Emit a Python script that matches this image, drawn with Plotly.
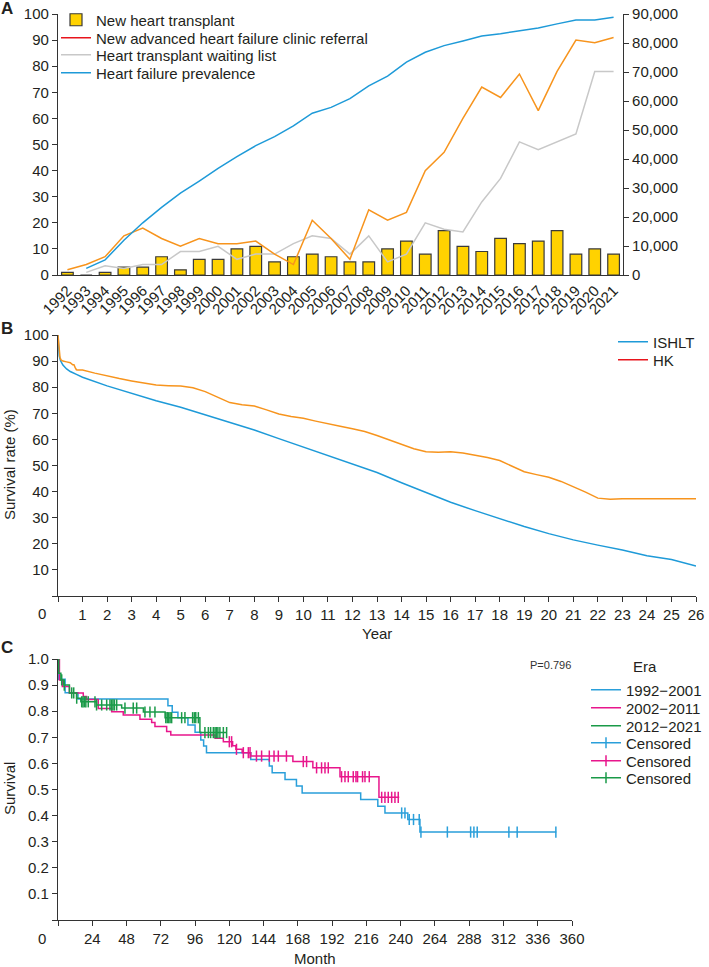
import plotly.graph_objects as go

# ---------------- Panel A data ----------------
years = ["1992", "1993", "1994", "1995", "1996", "1997", "1998", "1999", "2000", "2001",
         "2002", "2003", "2004", "2005", "2006", "2007", "2008", "2009", "2010", "2011",
         "2012", "2013", "2014", "2015", "2016", "2017", "2018", "2019", "2020", "2021"]
new_transplant = [1, 0, 1, 3, 3, 7, 2, 6, 6, 10, 11, 5, 7, 8, 7, 5, 5, 10, 13, 8,
                  17, 11, 9, 14, 12, 13, 17, 8, 10, 8]
new_referral = [2, 4, 7, 15, 18, 14, 11, 14, 12, 12, 13, 8, 4, 21, 14, 6, 25, 21, 24, 40,
                47, 60, 72, 68, 77, 63, 78, 90, 89, 91]
waiting_list = [None, 1, 3.5, 2.5, 4, 4, 9, 9, 11, 6, 8, 8, 12, 15, 14, 8, 15, 5, 8, 20,
                17.5, 16.5, 28, 37, 51, 48, 51, 54, 78, 78]
hf_prevalence = [None, 2300, 5200, 12000, 18000, 23300, 28200, 32400, 36800, 40800,
                 44600, 47700, 51400, 55800, 57800, 60800, 65200, 68600, 73400, 76800,
                 79100, 80700, 82400, 83200, 84300, 85200, 86600, 87900, 87900, 88900]

# ---------------- Panel B data ----------------
ishlt_year = [0, 0.02, 0.05, 0.1, 0.2, 0.35, 0.5, 0.75, 1, 2, 3, 4, 5, 6, 7, 8, 9, 10,
              11, 12, 13, 14, 15, 16, 17, 18, 19, 20, 21, 22, 23, 24, 25, 26]
ishlt_surv = [100, 95, 92, 90.2, 88.5, 87, 86, 84.9, 83.8, 80.5, 77.6, 74.8, 72.3, 69.5,
              66.5, 63.6, 60.3, 57, 53.6, 50.4, 47.3, 43.4, 39.6, 35.9, 32.7, 29.6, 26.6,
              23.9, 21.5, 19.5, 17.6, 15.4, 14.0, 11.5]
hk_year = [0, 0.02, 0.05, 0.08, 0.12, 0.2, 0.35, 0.5, 0.6, 0.65, 0.7, 0.75, 0.8, 1.0,
           1.5, 2, 2.5, 3, 3.5, 4, 4.5, 5, 5.5, 6, 6.5, 7, 7.5, 8, 8.5, 9, 9.5, 10, 10.5,
           11, 11.5, 12, 12.5, 13, 13.5, 14, 14.5, 15, 15.5, 16, 16.5, 17, 17.5, 18, 18.5,
           19, 19.5, 20, 20.5, 21, 21.5, 22, 22.5, 23, 24, 25, 26]
hk_surv = [100, 97, 94, 91.5, 90.5, 90, 89.7, 89.4, 88.6, 88.6, 87.5, 86.7, 86.6, 86.6,
           85.4, 84.3, 83.3, 82.4, 81.5, 80.8, 80.6, 80.5, 79.8, 78.3, 76.2, 74.1, 73.3,
           72.8, 71.3, 69.7, 68.8, 68.1, 67.0, 65.9, 65.0, 64.1, 63.0, 61.5, 59.8, 57.9,
           56.4, 55.3, 55.1, 55.3, 54.8, 53.9, 53.1, 51.9, 49.8, 47.6, 46.5, 45.5, 43.9,
           41.9, 39.8, 37.5, 37.1, 37.3, 37.3, 37.3, 37.3]

# ---------------- Panel C data (Kaplan-Meier by era) ----------------
era1_month = [0, 0.5, 5, 14, 77, 80, 84, 91, 96, 100, 102, 104, 135, 148, 150, 159, 167,
              171, 212, 224, 229, 245, 253.5, 349]
era1_surv = [1.0, 0.922, 0.871, 0.847, 0.821, 0.796, 0.775, 0.747, 0.719, 0.69, 0.667,
             0.641, 0.615, 0.59, 0.564, 0.538, 0.513, 0.487, 0.462, 0.436, 0.41, 0.385,
             0.337, 0.337]
era1_censor = [240.7, 243, 246, 249, 253, 254.2, 272.7, 289, 291.3, 293.6, 315.8, 321.6,
               348.7]

era2_month = [0, 1, 3, 8, 17.7, 20, 28.2, 37.6, 45.7, 57.4, 65.6, 67.9, 76.1, 79, 110,
              115.8, 122.3, 124.6, 129, 135, 164.5, 178.5, 197.5, 224.8, 239]
era2_surv = [1.0, 0.92, 0.895, 0.87, 0.856, 0.845, 0.81, 0.798, 0.785, 0.769, 0.757,
             0.741, 0.722, 0.709, 0.696, 0.683, 0.668, 0.654, 0.641, 0.628, 0.607, 0.583,
             0.549, 0.47, 0.47]
era2_censor = [120, 121.6, 125, 129.8, 133.3, 134.5, 139, 142.6, 148, 151.3, 154.3, 160,
               171.8, 174.1, 181.1, 184.6, 187, 189.3, 198.6, 201, 203.3, 206.8, 208.7,
               209.8, 213.3, 215, 218, 226.7, 229, 231.3, 233.7, 236, 238.3]

era3_month = [0, 0.5, 2, 4, 8, 13, 16, 27, 44.6, 59.8, 75, 99.4, 118]
era3_surv = [1.0, 0.945, 0.92, 0.9, 0.87, 0.85, 0.836, 0.824, 0.812, 0.797, 0.775, 0.718,
             0.718]
era3_censor = [2.6, 4.4, 9.6, 11, 13.1, 16.6, 17.5, 18.5, 19.5, 21.2, 25.9, 27, 30.6,
               34.1, 36.4, 37.5, 38.5, 39.5, 41.1, 46.9, 52.7, 55.1, 60.9, 64.4, 67.9,
               75.5, 76.5, 77.5, 78.5, 79.6, 86.6, 88.9, 94.3, 95.5, 96.5, 98.3, 102.9,
               105.3, 106.9, 108.8, 110, 111, 112, 113.4, 115.8, 118.1]

# tick labels
b_xtick_vals = list(range(0, 27))
b_xtick_text = [""] + [str(v) for v in range(1, 27)]
b_ytick_vals = [0, 10, 20, 30, 40, 50, 60, 70, 80, 90, 100]
b_ytick_text = ["", "10", "20", "30", "40", "50", "60", "70", "80", "90", "100"]
c_xtick_vals = [0, 24, 48, 72, 96, 120, 144, 168, 192, 216, 240, 264, 288, 312, 336, 360]
c_xtick_text = ["", "24", "48", "72", "96", "120", "144", "168", "192", "216", "240",
                "264", "288", "312", "336", "360"]
c_ytick_vals = [0, 0.1, 0.2, 0.3, 0.4, 0.5, 0.6, 0.7, 0.8, 0.9, 1.0]
c_ytick_text = ["", "0.1", "0.2", "0.3", "0.4", "0.5", "0.6", "0.7", "0.8", "0.9", "1.0"]

# ---------------- style ----------------
W, H = 709, 967
FONT = "Liberation Sans, Arial, sans-serif"
TXT = "#231f20"
AX = "#333333"
YELLOW = "#FFD200"
ORANGE = "#F7941D"
GREY = "#C8C8C8"
BLUE = "#1E9AD8"
RED = "#E8141C"
C_BLUE = "#2A9FDA"
C_MAG = "#E8168C"
C_GRN = "#1A9A48"


def px_x(p):
    return p / W


def px_y(p):
    return 1 - p / H


def censor_points(times, km_t, km_s):
    xs, ys = [], []
    for t in times:
        s = km_s[0]
        for kt, ks in zip(km_t, km_s):
            if kt <= t:
                s = ks
        xs += [t, None]
        ys += [s, None]
    return xs, ys


fig = go.Figure()

# ---- Panel A ----
fig.add_trace(go.Bar(x=years, y=new_transplant, name="New heart transplant",
                     marker=dict(color=YELLOW, line=dict(color="#3a3a3a", width=1.2)),
                     width=0.62, xaxis="x", yaxis="y", legend="legend"))
fig.add_trace(go.Scatter(x=years, y=waiting_list, mode="lines", name="Heart transplant waiting list",
                         line=dict(color=GREY, width=1.5), xaxis="x", yaxis="y",
                         legend="legend3"))
fig.add_trace(go.Scatter(x=years, y=new_referral, mode="lines",
                         name="New advanced heart failure clinic referral",
                         line=dict(color=ORANGE, width=1.5), xaxis="x", yaxis="y",
                         showlegend=False))
fig.add_trace(go.Scatter(x=[None], y=[None], mode="lines",
                         name="New advanced heart failure clinic referral",
                         line=dict(color=RED, width=1.5), xaxis="x", yaxis="y",
                         legend="legend2"))
fig.add_trace(go.Scatter(x=years, y=hf_prevalence, mode="lines", name="Heart failure prevalence",
                         line=dict(color=BLUE, width=1.5), xaxis="x", yaxis="y2",
                         legend="legend4"))

# ---- Panel B ----
fig.add_trace(go.Scatter(x=ishlt_year, y=ishlt_surv, mode="lines", name="ISHLT",
                         line=dict(color=BLUE, width=1.5), xaxis="x2", yaxis="y3",
                         legend="legend5"))
fig.add_trace(go.Scatter(x=hk_year, y=hk_surv, mode="lines", name="HK",
                         line=dict(color=ORANGE, width=1.5), xaxis="x2", yaxis="y3",
                         showlegend=False))
fig.add_trace(go.Scatter(x=[None], y=[None], mode="lines", name="HK",
                         line=dict(color=RED, width=1.5), xaxis="x2", yaxis="y3",
                         legend="legend6"))

# ---- Panel C ----
eras = [("1992\u22122001", era1_month, era1_surv, era1_censor, C_BLUE),
        ("2002\u22122011", era2_month, era2_surv, era2_censor, C_MAG),
        ("2012\u22122021", era3_month, era3_surv, era3_censor, C_GRN)]
for i, (nm, mt, sv, cz, col) in enumerate(eras):
    fig.add_trace(go.Scatter(x=mt, y=sv, mode="lines", name=nm, line_shape="hv",
                             line=dict(color=col, width=1.5), xaxis="x3", yaxis="y4",
                             legend="legend%d" % (7 + i)))
for i, (nm, mt, sv, cz, col) in enumerate(eras):
    cx, cy = censor_points(cz, mt, sv)
    fig.add_trace(go.Scatter(x=cx, y=cy, mode="lines+markers", name="Censored",
                             connectgaps=False,
                             line=dict(color=col, width=1.5),
                             marker=dict(symbol="line-ns", size=8,
                                         line=dict(color=col, width=1.5)),
                             xaxis="x3", yaxis="y4", legend="legend%d" % (10 + i)))

axis_common = dict(showline=True, linecolor=AX, linewidth=1.2, ticks="outside",
                   ticklen=5, tickcolor=AX, tickwidth=1.2, showgrid=False, zeroline=False,
                   automargin=False,
                   tickfont=dict(size=15, color=TXT, family=FONT))

legend_common = dict(bgcolor="rgba(0,0,0,0)", borderwidth=0, xanchor="left",
                     yanchor="middle", itemwidth=30,
                     font=dict(size=15, color=TXT, family=FONT))


def leg(xp, yp):
    d = dict(legend_common)
    d.update(x=px_x(xp), y=px_y(yp))
    return d


layout = dict(
    width=W, height=H, margin=dict(l=0, r=0, t=0, b=0, autoexpand=False),
    paper_bgcolor="white", plot_bgcolor="white",
    font=dict(family=FONT, color=TXT, size=15),
    bargap=0.38,
    xaxis=dict(axis_common, domain=[px_x(58), px_x(623)], anchor="y", type="category",
               range=[-0.5, 29.5], ticks="", tickangle=-45,
               tickmode="array", tickvals=years, ticktext=years),
    yaxis=dict(axis_common, domain=[px_y(275), px_y(14)], anchor="x", range=[0, 100],
               dtick=10),
    yaxis2=dict(axis_common, overlaying="y", side="right", anchor="x", range=[0, 90000],
                dtick=10000, tickformat=",d"),
    xaxis2=dict(axis_common, domain=[px_x(58), px_x(696)], anchor="y3", range=[0, 26],
                tickvals=b_xtick_vals, ticktext=b_xtick_text),
    yaxis3=dict(axis_common, domain=[px_y(596), px_y(335)], anchor="x2", range=[0, 100],
                tickvals=b_ytick_vals, ticktext=b_ytick_text),
    xaxis3=dict(axis_common, domain=[px_x(58), px_x(572)], anchor="y4", range=[0, 360],
                tickvals=c_xtick_vals, ticktext=c_xtick_text),
    yaxis4=dict(axis_common, domain=[px_y(920), px_y(659)], anchor="x3", range=[0, 1],
                tickvals=c_ytick_vals, ticktext=c_ytick_text),
    legend=leg(56, 20),
    legend2=leg(56, 38),
    legend3=leg(56, 55),
    legend4=leg(56, 73),
    legend5=leg(613, 342),
    legend6=leg(613, 360),
    legend7=leg(586, 690),
    legend8=leg(586, 708),
    legend9=leg(586, 726),
    legend10=leg(586, 743),
    legend11=leg(586, 761),
    legend12=leg(586, 778),
)
fig.update_layout(**layout)


def ann(text, xp, yp, size=15, bold=False, angle=0, xanchor="center", color=TXT):
    fig.add_annotation(text=("<b>%s</b>" % text) if bold else text, x=px_x(xp), y=px_y(yp),
                       xref="paper", yref="paper", showarrow=False, textangle=angle,
                       xanchor=xanchor, yanchor="middle",
                       font=dict(size=size, color=color, family=FONT))


ann("A", 7, 8, size=17, bold=True)
ann("B", 7, 328, size=17, bold=True)
ann("C", 7, 647, size=17, bold=True)
ann("0", 42, 613)
ann("0", 42, 938)
ann("Year", 377, 633)
ann("Month", 315, 958)
ann("Survival rate (%)", 9, 465, angle=-90)
ann("Survival", 9, 789, angle=-90)
ann("P=0.796", 550, 665, size=11, color="#333333")
ann("Era", 645, 666)

# the page's default 8px body margin would offset the 709x967 figure inside the window
fig.write_html("out.html",
               config={"displayModeBar": False},
               post_script="document.body.style.margin='0';"
                           "document.body.style.overflow='hidden';")
